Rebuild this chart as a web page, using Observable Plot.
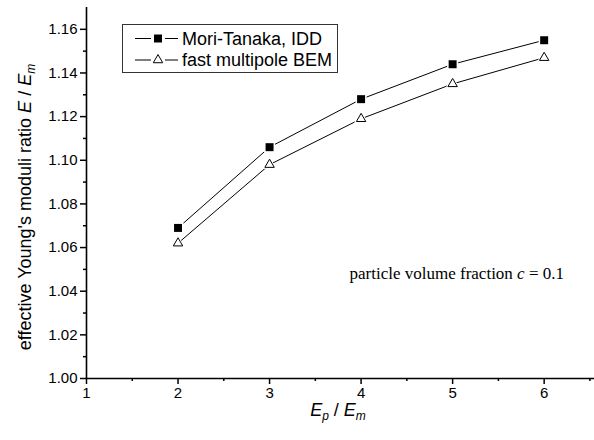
<!DOCTYPE html>
<html>
<head>
<meta charset="utf-8">
<script src="https://cdn.jsdelivr.net/npm/d3@7"></script>
<script src="https://cdn.jsdelivr.net/npm/@observablehq/plot@0.6"></script>
<style>
  html, body { margin: 0; padding: 0; background: #fff; }
  #chart { width: 594px; height: 440px; }
</style>
</head>
<body>
<div id="chart"></div>
<script>
// ---- data ----
const ratios = [2, 3, 4, 5, 6];                       // E_p / E_m
const moriTanaka = [1.069, 1.106, 1.128, 1.144, 1.155]; // Mori-Tanaka, IDD
const fastBEM = [1.062, 1.098, 1.119, 1.135, 1.147];    // fast multipole BEM
const xTicks = [1, 2, 3, 4, 5, 6];
const xMinor = [1.5, 2.5, 3.5, 4.5, 5.5, 6.5];
const yTicks = [1.00, 1.02, 1.04, 1.06, 1.08, 1.10, 1.12, 1.14, 1.16];
const yMinor = [1.01, 1.03, 1.05, 1.07, 1.09, 1.11, 1.13, 1.15];
const seriesNames = ["Mori-Tanaka, IDD", "fast multipole BEM"];

const mt = ratios.map((x, i) => ({x, y: moriTanaka[i]}));
const bem = ratios.map((x, i) => ({x, y: fastBEM[i]}));

const font = "Liberation Sans, Arial, sans-serif";

const plot = Plot.plot({
  width: 594,
  height: 440,
  marginLeft: 86,
  marginRight: 0,
  marginTop: 7,
  marginBottom: 62,
  style: {fontFamily: font, fontSize: "15px", color: "#000", background: "#fff"},
  x: {domain: [1, 6.55]},
  y: {domain: [1.0, 1.17]},
  marks: [
    Plot.axisX({ticks: xTicks, tickSize: 6, tickPadding: 3, tickFormat: d3.format("d"), label: null, strokeWidth: 1.5, fontSize: 15}),
    Plot.axisX({ticks: xMinor, tickSize: 3, tickFormat: () => "", label: null, strokeWidth: 1.5}),
    Plot.axisY({ticks: yTicks, tickSize: 6, tickPadding: 3, tickFormat: d3.format(".2f"), label: null, strokeWidth: 1.5, fontSize: 15}),
    Plot.axisY({ticks: yMinor, tickSize: 3, tickFormat: () => "", label: null, strokeWidth: 1.5}),
    Plot.ruleX([1], {stroke: "#000", strokeWidth: 1.6}),
    Plot.ruleY([1], {stroke: "#000", strokeWidth: 1.6}),
    Plot.line(mt, {x: "x", y: "y", stroke: "#000", strokeWidth: 1}),
    Plot.line(bem, {x: "x", y: "y", stroke: "#000", strokeWidth: 1}),
    // white halos to create gaps between lines and markers
    Plot.dot(mt, {x: "x", y: "y", symbol: "square", r: 6.2, fill: "#fff", stroke: "none"}),
    Plot.dot(bem, {x: "x", y: "y", symbol: "triangle", r: 5.2, fill: "#fff", stroke: "none"}),
    Plot.dot(mt, {x: "x", y: "y", symbol: "square", r: 4.5, fill: "#000", stroke: "none"}),
    Plot.dot(bem, {x: "x", y: "y", symbol: "triangle", r: 3.5, fill: "#fff", stroke: "#000", strokeWidth: 1})
  ]
});

document.getElementById("chart").appendChild(plot);

// ---- annotations, axis titles, legend ----
const svg = d3.select(plot);

// x-axis title: E_p / E_m
const xt = svg.append("text")
  .attr("x", 338).attr("y", 416)
  .attr("text-anchor", "middle")
  .attr("font-family", font).attr("font-size", 18).attr("fill", "#000");
xt.append("tspan").attr("font-style", "italic").text("E");
xt.append("tspan").attr("font-style", "italic").attr("font-size", 12).attr("dy", 4).text("p");
xt.append("tspan").attr("dy", -4).text(" / ");
xt.append("tspan").attr("font-style", "italic").text("E");
xt.append("tspan").attr("font-style", "italic").attr("font-size", 12).attr("dy", 4).text("m");

// y-axis title
const yt = svg.append("text")
  .attr("transform", "translate(31,207) rotate(-90)")
  .attr("text-anchor", "middle")
  .attr("font-family", font).attr("font-size", 18).attr("fill", "#000");
yt.append("tspan").text("effective Young's moduli ratio ");
yt.append("tspan").attr("font-style", "italic").text("E");
yt.append("tspan").text(" / ");
yt.append("tspan").attr("font-style", "italic").text("E");
yt.append("tspan").attr("font-style", "italic").attr("font-size", 12).attr("dy", 4).text("m");

// annotation
const an = svg.append("text")
  .attr("x", 564).attr("y", 279)
  .attr("text-anchor", "end")
  .attr("font-family", "Liberation Serif, Times New Roman, serif")
  .attr("font-size", 17).attr("fill", "#000");
an.append("tspan").text("particle volume fraction ");
an.append("tspan").attr("font-style", "italic").text("c");
an.append("tspan").text(" = 0.1");

// legend
const lg = svg.append("g");
lg.append("rect").attr("x", 122.5).attr("y", 24.5).attr("width", 215).attr("height", 48)
  .attr("fill", "#fff").attr("stroke", "#333").attr("stroke-width", 1);
const rowsY = [38.5, 60];
const sqSym = d3.symbol(d3.symbolSquare, Math.PI * 4.5 * 4.5)();
const trSym = d3.symbol(d3.symbolTriangle, Math.PI * 3.5 * 3.5)();
seriesNames.forEach((name, i) => {
  const cy = rowsY[i];
  lg.append("line").attr("x1", 135).attr("x2", 151).attr("y1", cy).attr("y2", cy).attr("stroke", "#000");
  lg.append("line").attr("x1", 165).attr("x2", 178).attr("y1", cy).attr("y2", cy).attr("stroke", "#000");
  if (i === 0) {
    lg.append("path").attr("d", sqSym).attr("transform", `translate(158,${cy})`).attr("fill", "#000");
  } else {
    lg.append("path").attr("d", trSym).attr("transform", `translate(158,${cy})`).attr("fill", "#fff").attr("stroke", "#000");
  }
  lg.append("text").attr("x", 182).attr("y", cy).attr("dy", "0.35em")
    .attr("text-anchor", "start")
    .attr("font-family", font).attr("font-size", 18).attr("fill", "#000").text(name);
});
</script>
</body>
</html>
